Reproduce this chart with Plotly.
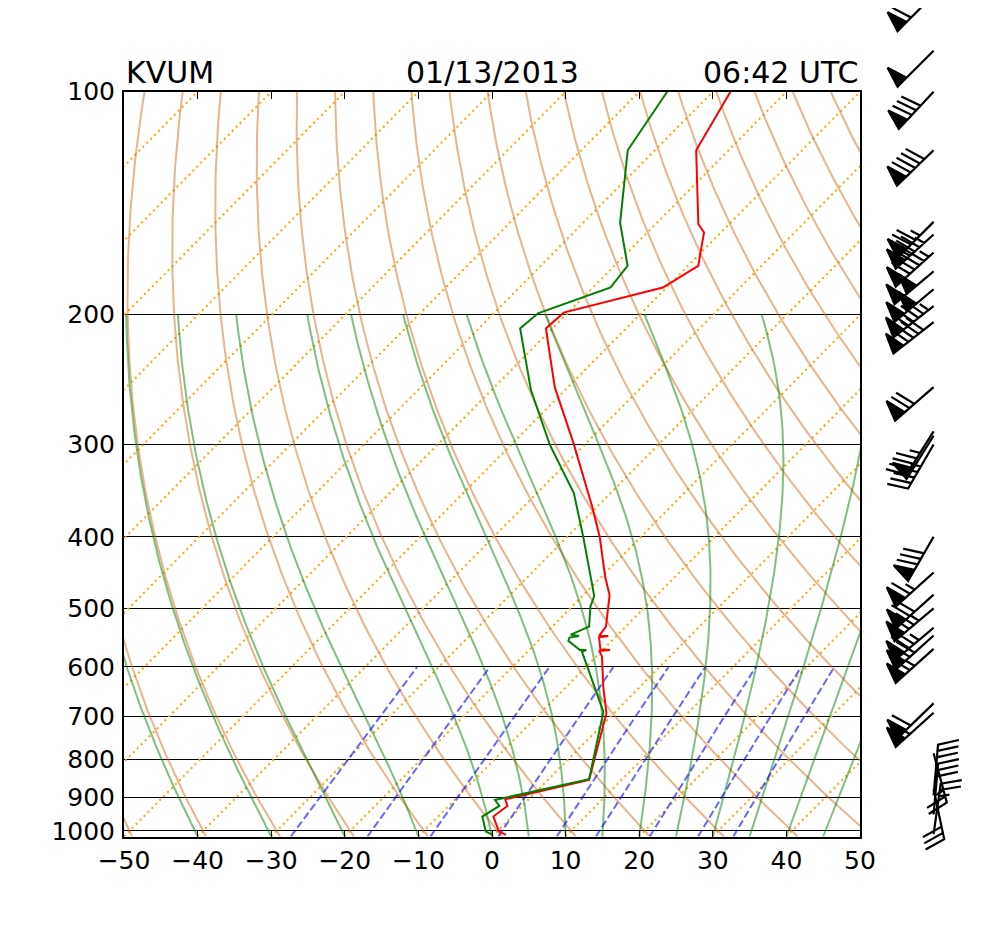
import numpy as np
import plotly.graph_objects as go

# ---------------- data ----------------
STATION = "KVUM"
DATE_LABEL = "01/13/2013"
TIME_LABEL = "06:42 UTC"

temp_pressure = [1012, 1002, 956, 925, 906, 853, 693, 638, 581, 571, 569, 568, 547, 545, 544.5,
                 529, 502, 480, 453, 400, 364, 299, 251, 209, 199, 184, 172, 155, 151, 120, 100]
temperature = [1.7, 0.3, -2.5, -2.0, -3.2, 5.6, -1.0, -5.0, -9.2, -10.3, -9.0, -10.4, -12.2, -11.1, -12.4,
               -12.7, -14.7, -16.4, -19.5, -25.6, -30.7, -41.7, -51.8, -60.9, -60.6, -50.5, -48.6, -52.3,
               -54.2, -64.4, -67.6]

dew_pressure = [1012, 1002, 956, 925, 908, 851, 690, 572, 569.2, 569, 553, 547.4, 544.8, 542.5, 529,
                497, 481, 453, 398, 349, 300.5, 253.5, 209, 199.4, 184, 172, 150.4, 120, 100]
dewpoint = [-0.1, -1.5, -4.0, -3.1, -4.5, 5.5, -1.6, -12.6, -12.2, -13.1, -15.9, -16.2, -15.1, -16.4,
            -15.0, -17.5, -18.4, -21.5, -28.1, -35.0, -44.7, -54.6, -64.4, -64.0, -57.6, -58.2, -65.0,
            -73.7, -76.2]

wind_pressure = [66, 74, 88, 100, 120, 150, 156, 165, 175, 185, 195, 205, 251, 288, 292, 300, 400,
                 447, 479, 500, 531, 544, 567, 672, 692, 785, 878, 895, 950, 1010]
wind_speed = [55, 60, 50, 80, 90, 75, 85, 95, 100, 100, 95, 90, 70, 45, 50, 45, 80,
              65, 70, 75, 75, 70, 65, 60, 55, 25, 30, 30, 30, 25]
wind_dir = [225, 225, 225, 223, 226, 225, 228, 228, 230, 230, 232, 232, 229, 212, 212, 210, 210,
            228, 228, 230, 230, 228, 228, 226, 228, 165, 168, 5, 5, 8]

x_ticks = [-50, -40, -30, -20, -10, 0, 10, 20, 30, 40, 50]
p_ticks = [100, 200, 300, 400, 500, 600, 700, 800, 900, 1000]

isotherm_t = list(range(-150, 51, 10))
dry_theta_c = list(range(-50, 181, 10))
moist_t0 = [-50, -40, -30, -20, -10, 0, 5, 10, 15, 20, 25, 30, 35, 40, 45, 50]
mixing_w = [0.0004, 0.001, 0.002, 0.004, 0.007, 0.01, 0.016, 0.024, 0.032]

# ---------------- geometry ----------------
W, H = 988, 931
OFF = 8  # page body margin in the browser
AX_L, AX_R, AX_T, AX_B = 124 - OFF, 860 - OFF, 91.7 - OFF, 836.5 - OFF
P_BOT, P_TOP = 1017.3, 100.0
LB, LT = np.log10(P_BOT), np.log10(P_TOP)


def yfrac(p):
    return (LB - np.log10(p)) / (LB - LT)


def skew(t, p):
    return np.asarray(t, float) + 100.0 * yfrac(np.asarray(p, float))


def p_to_px(p):
    return AX_B - yfrac(p) * (AX_B - AX_T)


Rd, Cp, Lv, EPS = 287.04, 1005.7, 2.501e6, 0.622
KAPPA = 0.2857


def es_hpa(tk):
    return 6.112 * np.exp(17.67 * (tk - 273.15) / (tk - 29.65))


def moist_dtdp(p, tk):
    es = es_hpa(tk)
    rs = EPS * es / (p - es)
    frac = (Rd * tk + Lv * rs) / (Cp + Lv * Lv * rs * EPS / (Rd * tk * tk))
    return frac / p


def moist_line(t0c, p_end=200.0, n=160):
    ps = np.linspace(P_BOT, p_end, n)
    out = [t0c + 273.15]
    tk = t0c + 273.15
    for i in range(1, n):
        p0, p1 = ps[i - 1], ps[i]
        sub = 4
        h = (p1 - p0) / sub
        pp = p0
        for _ in range(sub):
            k1 = moist_dtdp(pp, tk)
            k2 = moist_dtdp(pp + h / 2, tk + h * k1 / 2)
            k3 = moist_dtdp(pp + h / 2, tk + h * k2 / 2)
            k4 = moist_dtdp(pp + h, tk + h * k3)
            tk = tk + h * (k1 + 2 * k2 + 2 * k3 + k4) / 6
            pp += h
        out.append(tk)
    return ps, np.array(out) - 273.15


fig = go.Figure()

# isotherms
for t in isotherm_t:
    pp = np.array([P_BOT, P_TOP])
    fig.add_trace(go.Scatter(x=skew([t, t], pp), y=pp, mode="lines",
                             line=dict(color="#FFA500", width=2, dash="2px,3.6px"),
                             hoverinfo="skip", showlegend=False))

# dry adiabats
pd_ = np.geomspace(P_BOT, P_TOP, 120)
for th in dry_theta_c:
    tk = (th + 273.15) * (pd_ / 1000.0) ** KAPPA - 273.15
    fig.add_trace(go.Scatter(x=skew(tk, pd_), y=pd_, mode="lines",
                             line=dict(color="rgba(210,105,30,0.5)", width=2),
                             hoverinfo="skip", showlegend=False))

# moist adiabats
for t0 in moist_t0:
    ps, ts = moist_line(t0)
    fig.add_trace(go.Scatter(x=skew(ts, ps), y=ps, mode="lines",
                             line=dict(color="rgba(0,128,0,0.5)", width=2),
                             hoverinfo="skip", showlegend=False))

# mixing ratio lines
pm = np.geomspace(P_BOT, 600, 40)
for w in mixing_w:
    e = w * pm / (EPS + w)
    a = np.log(e / 6.112)
    td = 243.5 * a / (17.67 - a)
    fig.add_trace(go.Scatter(x=skew(td, pm), y=pm, mode="lines",
                             line=dict(color="rgba(0,0,255,0.6)", width=2, dash="7.7px,3.3px"),
                             hoverinfo="skip", showlegend=False))

# profiles
fig.add_trace(go.Scatter(x=skew(temperature, temp_pressure), y=temp_pressure, mode="lines",
                         line=dict(color="#FF0000", width=2), name="Temperature", showlegend=False))
fig.add_trace(go.Scatter(x=skew(dewpoint, dew_pressure), y=dew_pressure, mode="lines",
                         line=dict(color="#008000", width=2), name="Dewpoint", showlegend=False))

# wind barbs (matplotlib barb geometry, in pixel space on an overlay axis)
L = 51.0
XLOC = 1.1
bx, by = [], []
for p, spd, d in zip(wind_pressure, wind_speed, wind_dir):
    s = 5 * round(spd / 5)
    nflags = int(s // 50)
    rem = s - 50 * nflags
    nbarbs = int(rem // 10)
    rem -= 10 * nbarbs
    half = rem >= 5
    spacing, fh, fw = 0.125 * L, 0.4 * L, 0.25 * L
    verts = [(0.0, 0.0)]
    off = L
    for i in range(nflags):
        if off != L:
            off += spacing / 2
        verts += [(0, off), (fh, off - fw / 2), (0, off - fw)]
        off -= fw + spacing
    for i in range(nbarbs):
        verts += [(0, off), (fh, off + fw / 2), (0, off)]
        off -= spacing
    if half:
        if off == L:
            verts.append((0, off))
            off -= 1.5 * spacing
        verts += [(0, off), (fh / 2, off + fw / 4), (0, off)]
    verts.append((0.0, 0.0))
    r = np.radians(d)
    ex = (np.cos(r), -np.sin(r))
    ey = (np.sin(r), np.cos(r))
    ax0 = AX_L + XLOC * (AX_R - AX_L)
    ay0 = p_to_px(p)
    for (lx, ly) in verts:
        mx = lx * ex[0] + ly * ey[0]
        my = lx * ex[1] + ly * ey[1]
        bx.append(ax0 + mx)
        by.append(ay0 - my)
    bx.append(None)
    by.append(None)

fig.add_trace(go.Scatter(x=bx, y=by, xaxis="x2", yaxis="y2", mode="lines", fill="toself",
                         fillcolor="black", line=dict(color="black", width=2.2),
                         hoverinfo="skip", showlegend=False))

fnt = "DejaVu Sans"
fig.update_layout(
    width=W, height=H,
    margin=dict(l=0, r=0, t=0, b=0, pad=0, autoexpand=False),
    paper_bgcolor="white", plot_bgcolor="rgba(0,0,0,0)",
    showlegend=False,
    font=dict(family=fnt, color="black"),
    xaxis=dict(domain=[AX_L / W, AX_R / W], range=[-50, 50], tickvals=x_ticks,
               ticks="inside", ticklen=7, tickcolor="black", tickwidth=1.2,
               showline=True, linecolor="black", linewidth=2, mirror="ticks",
               showgrid=False, zeroline=False, tickfont=dict(size=25, family=fnt, color="black"),
               anchor="y", fixedrange=True, automargin=False),
    yaxis=dict(domain=[1 - AX_B / H, 1 - AX_T / H], type="log", range=[LB, LT],
               tickvals=p_ticks, ticktext=[str(v) for v in p_ticks], ticks="",
               showline=True, linecolor="black", linewidth=2, mirror=True,
               showgrid=True, gridcolor="black", gridwidth=1.2, zeroline=False,
               tickfont=dict(size=25, family=fnt, color="black"), ticklabelstandoff=2,
               anchor="x", fixedrange=True, automargin=False),
    xaxis2=dict(domain=[0, 1], range=[0, W], visible=False, anchor="y2", fixedrange=True,
                automargin=False),
    yaxis2=dict(domain=[0, 1], range=[H, 0], visible=False, anchor="x2", fixedrange=True,
                automargin=False),
    annotations=[
        dict(text=STATION, xref="paper", yref="paper", x=AX_L / W, y=1 - AX_T / H,
             xanchor="left", yanchor="bottom", showarrow=False, font=dict(size=30, family=fnt)),
        dict(text=DATE_LABEL, xref="paper", yref="paper", x=(AX_L + AX_R) / 2 / W, y=1 - AX_T / H,
             xanchor="center", yanchor="bottom", showarrow=False, font=dict(size=30, family=fnt)),
        dict(text=TIME_LABEL, xref="paper", yref="paper", x=AX_R / W, y=1 - AX_T / H,
             xanchor="right", yanchor="bottom", showarrow=False, font=dict(size=30, family=fnt)),
    ],
)

fig.write_html("out.html")
